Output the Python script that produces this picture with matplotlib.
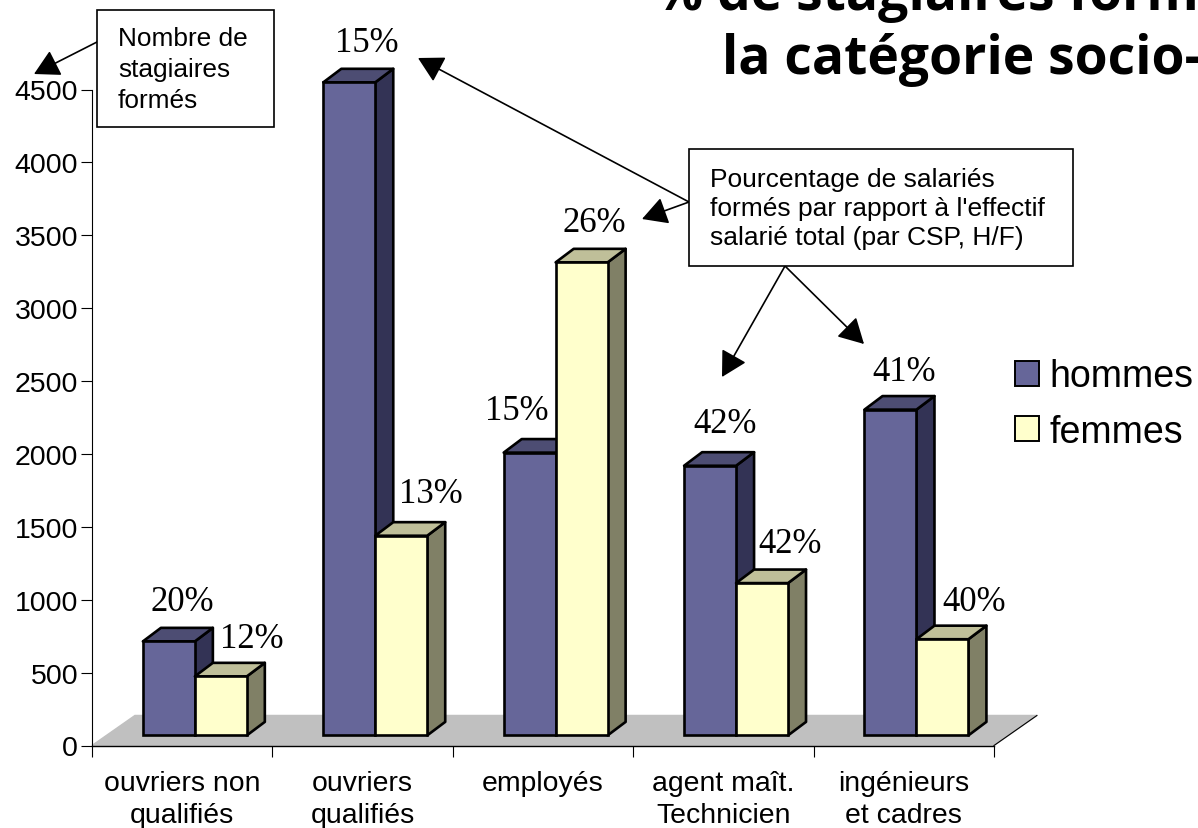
import matplotlib
matplotlib.use('Agg')
import matplotlib.pyplot as plt
from matplotlib.patches import Rectangle, FancyArrowPatch

# Donnees
categories = ['ouvriers non\nqualifiés', 'ouvriers\nqualifiés', 'employés', 'agent maît.\nTechnicien', 'ingénieurs\net cadres']
hommes = [645, 4480, 1940, 1850, 2235]
femmes = [405, 1370, 3245, 1045, 660]
pct_hommes = ['20%', '15%', '15%', '42%', '41%']
pct_femmes = ['12%', '13%', '26%', '42%', '40%']
yticks = [0, 500, 1000, 1500, 2000, 2500, 3000, 3500, 4000, 4500]

W, H = 1198, 829
plt.rcParams['font.family'] = ['Liberation Sans', 'DejaVu Sans']

fig = plt.figure(figsize=(W / 100, H / 100), dpi=100)

def fx(x):
    return x / W

def fy(y):
    return 1 - y / H

# Axes : x 92-994 px, y 746-90 px
ax = fig.add_axes([fx(92), fy(746.5), fx(994) - fx(92), fy(90.5) - fy(746.5)])
ax.set_xlim(0, 5)
ax.set_ylim(0, 4500)
ax.patch.set_visible(False)
for s in ['top', 'right']:
    ax.spines[s].set_visible(False)
ax.spines['left'].set_linewidth(0.8)
ax.spines['bottom'].set_linewidth(1.0)
ax.set_yticks(yticks)
ax.tick_params(axis='y', length=8, width=0.8, labelsize=20.5, pad=2)
ax.set_xticks(range(6))
ax.set_xticklabels([])
ax.tick_params(axis='x', length=8, width=0.8)
ax.set_xticks([i + 0.5 for i in range(5)], minor=True)
ax.set_xticklabels(categories, minor=True, fontsize=20.4, linespacing=1.27)
ax.tick_params(axis='x', which='minor', length=0, pad=18)

# Sol gris
ddx, ddy = 0.238, 206
ax.fill([0, ddx, 5 + ddx, 5], [0, ddy, ddy, 0], color='#C0C0C0', zorder=1, clip_on=False)
ax.plot([5, 5 + ddx], [0, ddy], color='black', lw=0.8, zorder=1.5, clip_on=False)

# Barres 3D
width = 0.288
base = 69
dx, dy = 0.1, 93
edge = dict(edgecolor='black', linewidth=1.9, clip_on=False, joinstyle='round')

def bar3d(x, val, front, side, top, z):
    y0, y1 = base, base + val
    ax.fill([x + width, x + width + dx, x + width + dx, x + width],
            [y0, y0 + dy, y1 + dy, y1], facecolor=side, zorder=z, **edge)
    ax.fill([x, x + dx, x + width + dx, x + width],
            [y1, y1 + dy, y1 + dy, y1], facecolor=top, zorder=z, **edge)
    ax.bar(x, val, width, bottom=base, align='edge', color=front, zorder=z + 0.1,
           edgecolor='black', linewidth=1.9, clip_on=False)

for i in range(5):
    c = i + 0.57
    bar3d(c - width, hommes[i], '#666699', '#333355', '#4D4D73', 2 + i * 0.5)
    bar3d(c, femmes[i], '#FFFFCC', '#808066', '#BFBF99', 2.2 + i * 0.5)

# Pourcentages
pos_h = [(182, 611), (367, 52), (517, 420), (725, 433), (904, 381)]
pos_f = [(252, 648), (431, 503), (594, 232), (790, 553), (974, 611)]
for lab, p in zip(pct_hommes + pct_femmes, pos_h + pos_f):
    fig.text(fx(p[0]), fy(p[1]), lab, family='Liberation Serif', fontsize=25, ha='center', va='baseline', zorder=6)

# Titre coupe par le bord de l'image
fig.text(fx(655), fy(10), '% de stagiaires form', family='Open Sans', weight='bold', fontsize=38.5, ha='left', va='baseline')
fig.text(fx(722), fy(74), 'la catégorie socio-', family='Open Sans', weight='bold', fontsize=38.5, ha='left', va='baseline')

# Boites
fig.add_artist(Rectangle((fx(97), fy(128)), fx(274) - fx(97), fy(11) - fy(128), facecolor='white', edgecolor='black', linewidth=1.2, zorder=5))
fig.add_artist(Rectangle((fx(689), fy(267)), fx(1073) - fx(689), fy(150) - fy(267), facecolor='white', edgecolor='black', linewidth=1.2, zorder=5))
fig.text(fx(118), fy(70), 'Nombre de\nstagiaires\nformés', fontsize=18.9, ha='left', va='center', linespacing=1.36, zorder=6)
fig.text(fx(710), fy(209), "Pourcentage de salariés\nformés par rapport à l'effectif\nsalarié total (par CSP, H/F)", fontsize=19, ha='left', va='center', linespacing=1.28, zorder=6)

# Fleches
arrows = [((97, 43), (34, 75)), ((689, 203), (418, 59)), ((689, 203), (642, 220)),
          ((785, 267), (722, 378)), ((785, 267), (864, 345))]
for a, b in arrows:
    fig.add_artist(FancyArrowPatch((fx(a[0]), fy(a[1])), (fx(b[0]), fy(b[1])), transform=fig.transFigure,
                   arrowstyle='-|>,head_length=0.6,head_width=0.33', mutation_scale=26, color='black', lw=1.2,
                   shrinkA=0, shrinkB=0, zorder=4))

# Legende
h1 = Rectangle((0, 0), 1, 1, facecolor='#666699', edgecolor='black', linewidth=1.4)
h2 = Rectangle((0, 0), 1, 1, facecolor='#FFFFCC', edgecolor='black', linewidth=1.4)
fig.legend([h1, h2], ['hommes', 'femmes'], loc='upper left', bbox_to_anchor=(fx(1007.5), fy(352)), frameon=False,
           fontsize=27, handlelength=0.64, handleheight=0.64, handletextpad=0.27, labelspacing=0.51, borderpad=0.2, borderaxespad=0)

fig.savefig('out.png', dpi=100)
